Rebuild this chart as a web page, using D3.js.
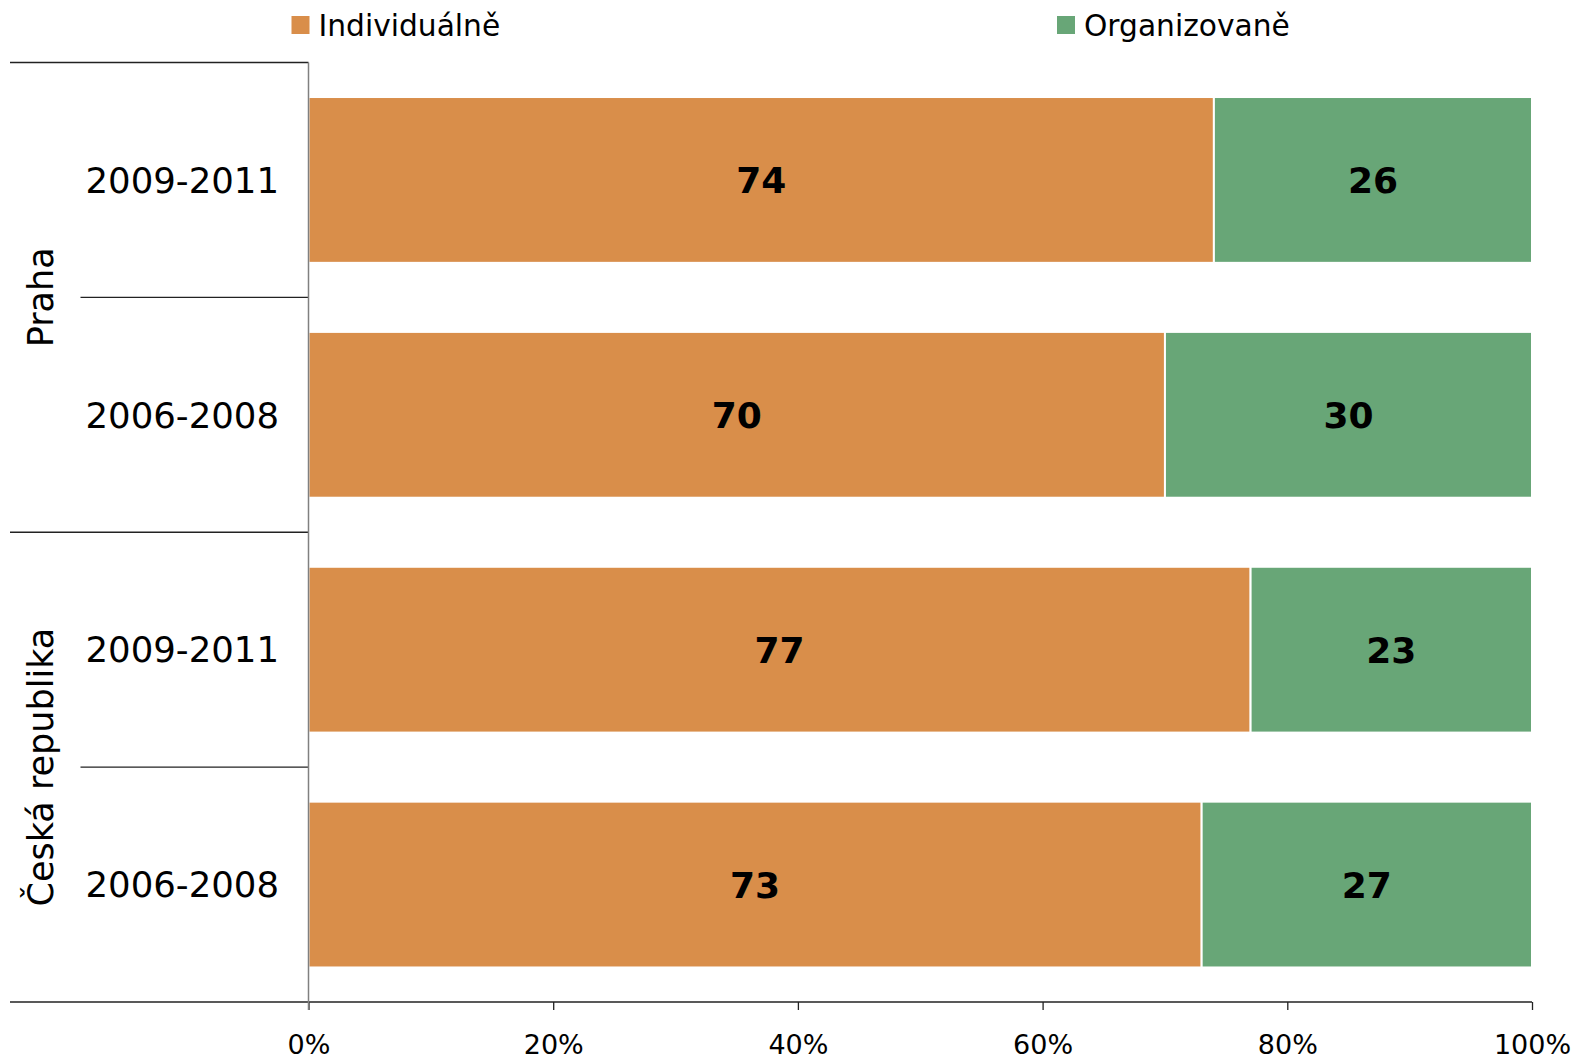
<!DOCTYPE html>
<html><head><meta charset="utf-8">
<script src="https://cdnjs.cloudflare.com/ajax/libs/d3/7.8.5/d3.min.js"></script>
<style>body{margin:0;background:#fff}svg{display:block;font-family:"DejaVu Sans",Verdana,sans-serif}</style>
</head><body><svg id="c" width="1576" height="1056"></svg>
<script>
const groups = ["Praha", "Praha", "Česká republika", "Česká republika"];
const periods = ["2009-2011", "2006-2008", "2009-2011", "2006-2008"];
const seriesNames = ["Individuálně", "Organizovaně"];
const individualne = [74, 70, 77, 73];
const organizovane = [26, 30, 23, 27];
const tickValues = [0, 20, 40, 60, 80, 100];
const colors = ["#D98E4A", "#68A677"];

const svg = d3.select("#c");
const L = 308.5, R = 1532, T = 62.5, B = 1002;
const rows = d3.range(periods.length);
const x = d3.scaleLinear().domain([0, 100]).range([L, R]);
const y = d3.scaleBand().domain(rows).range([T, B]).paddingInner(0.294).paddingOuter(0.147);
const yb = d3.scaleBand().domain(rows).range([T, B]);

const data = rows.map(i => ({i, vals: [individualne[i], organizovane[i]]}));
const stack = d3.stack().keys([0, 1]).value((d, k) => d.vals[k]);
const series = stack(data);

// bars
series.forEach((s, k) => {
  const g = svg.append("g");
  g.selectAll("rect").data(s).enter().append("rect")
    .attr("x", d => x(d[0]))
    .attr("width", d => x(d[1]) - x(d[0]))
    .attr("y", d => y(d.data.i))
    .attr("height", y.bandwidth())
    .attr("fill", colors[k])
    .attr("stroke", "#fff").attr("stroke-width", 2);
  g.selectAll("text").data(s).enter().append("text")
    .attr("x", d => (x(d[0]) + x(d[1])) / 2)
    .attr("y", d => y(d.data.i) + y.bandwidth() / 2)
    .attr("dy", "0.36em")
    .attr("text-anchor", "middle")
    .attr("font-weight", "bold").attr("font-size", 36)
    .text(d => d.data.vals[k]);
});

// x axis
const xAxis = d3.axisBottom(x).tickValues(tickValues).tickFormat(d => d + "%").tickSize(8).tickPadding(25);
const ax = svg.append("g").attr("transform", `translate(0,${B})`).call(xAxis);
ax.select(".domain").remove();
ax.selectAll(".tick line").attr("stroke", "#222").attr("stroke-width", 1.3);
ax.selectAll(".tick text").attr("font-size", 27).attr("fill", "#000").attr("font-family", "DejaVu Sans, Verdana, sans-serif");

// horizontal lines
svg.append("line").attr("x1", 10).attr("x2", R).attr("y1", B).attr("y2", B).attr("stroke", "#222").attr("stroke-width", 1.3);
rows.forEach(i => {
  const yy = yb(i);
  const startsGroup = i === 0 || groups[i] !== groups[i - 1];
  svg.append("line").attr("x1", startsGroup ? 10 : 80.5).attr("x2", L).attr("y1", yy).attr("y2", yy)
    .attr("stroke", "#222").attr("stroke-width", 1.3);
});
// vertical axis
svg.append("line").attr("x1", L).attr("x2", L).attr("y1", T).attr("y2", B + 8).attr("stroke", "#808080").attr("stroke-width", 1.5);

// period labels
svg.append("g").selectAll("text").data(rows).enter().append("text")
  .attr("x", 279).attr("y", i => yb(i) + yb.bandwidth() / 2).attr("dy", "0.36em")
  .attr("text-anchor", "end").attr("font-size", 35.5).attr("fill", "#000")
  .text(i => periods[i]);

// group labels
const groupNames = Array.from(new Set(groups));
groupNames.forEach(gname => {
  const idx = rows.filter(i => groups[i] === gname);
  const y0 = yb(idx[0]), y1 = yb(idx[idx.length - 1]) + yb.bandwidth();
  const cy = (y0 + y1) / 2;
  svg.append("text").attr("transform", `translate(40,${cy}) rotate(-90)`)
    .attr("text-anchor", "middle").attr("dy", "0.36em").attr("font-size", 35).attr("fill", "#000")
    .text(gname);
});

// legend
const legX = [291.5, 1057];
seriesNames.forEach((n, k) => {
  svg.append("rect").attr("x", legX[k]).attr("y", 16).attr("width", 18).attr("height", 18).attr("fill", colors[k]);
  svg.append("text").attr("x", legX[k] + 27).attr("y", 25).attr("dy", "0.36em")
    .attr("font-size", 29.7).attr("fill", "#000").text(n);
});
</script></body></html>
